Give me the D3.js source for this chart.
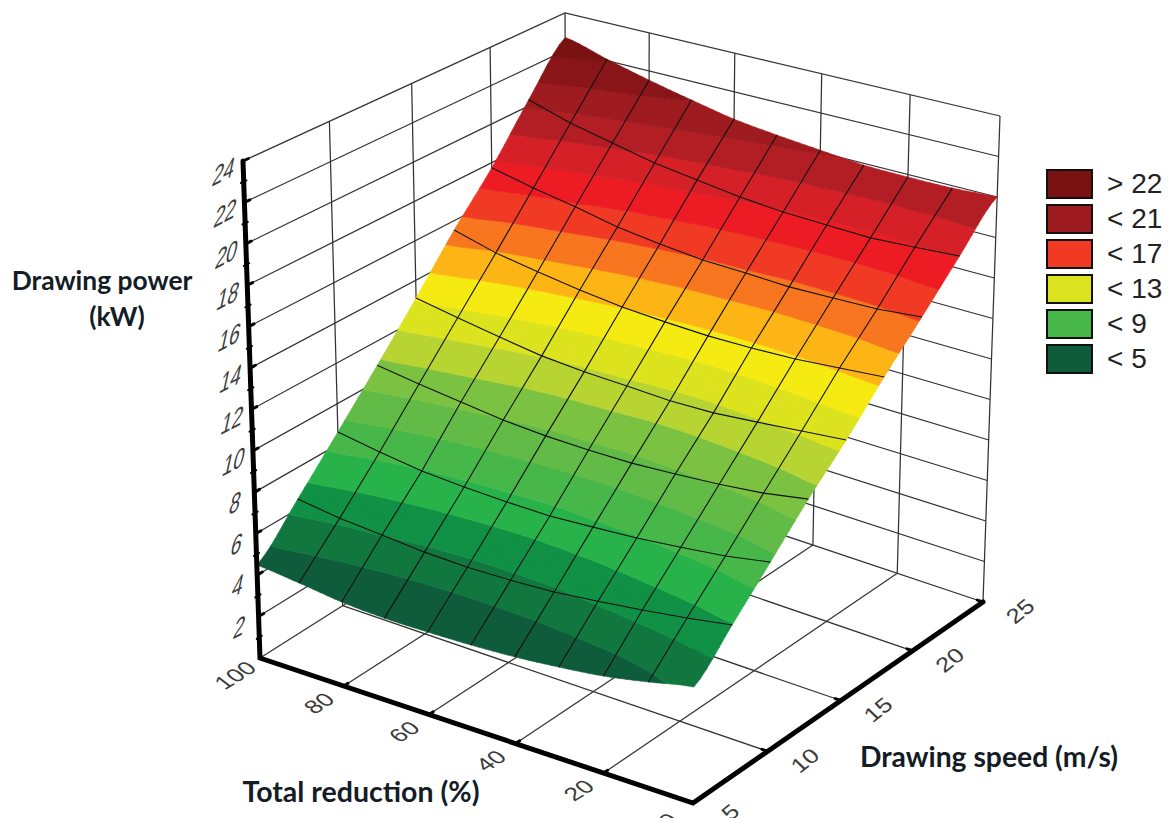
<!DOCTYPE html>
<html>
<head>
<meta charset="utf-8">
<script src="https://cdnjs.cloudflare.com/ajax/libs/d3/7.8.5/d3.min.js"></script>
<style>
  html, body { margin: 0; padding: 0; background: #fff; }
  svg { display: block; }
</style>
</head>
<body>
<div id="chart"></div>
<script>
const reductions = [100, 90, 80, 70, 60, 50, 40, 30, 20, 10, 0];
const speeds = [5, 7.5, 10, 12.5, 15, 17.5, 20, 22.5, 25];

// drawing power (kW), one row per speed, columns follow reductions
const powerAt5 = [4.49, 4.27, 4.01, 3.89, 3.89, 3.93, 4.03, 4.21, 4.45, 4.83, 5.25];
const powerAt7 = [6.48, 6.19, 6.02, 5.84, 5.77, 5.8, 5.89, 6.11, 6.35, 6.63, 6.96];
const powerAt10 = [8.61, 8.25, 7.96, 7.82, 7.74, 7.71, 7.82, 7.95, 8.16, 8.39, 8.75];
const powerAt12 = [10.8, 10.49, 10.22, 9.96, 9.82, 9.77, 9.77, 9.88, 10.03, 10.25, 10.6];
const powerAt15 = [13.1, 12.71, 12.36, 12.04, 11.87, 11.8, 11.7, 11.74, 11.92, 12.12, 12.32];
const powerAt17 = [15.52, 14.95, 14.59, 14.28, 14.03, 13.9, 13.82, 13.84, 13.91, 14.09, 14.27];
const powerAt20 = [17.73, 17.27, 16.88, 16.44, 16.17, 15.96, 15.9, 15.81, 15.86, 15.92, 16.13];
const powerAt22 = [20.32, 19.66, 19.19, 18.72, 18.43, 18.13, 17.95, 17.88, 17.82, 17.94, 18.09];
const powerAt25 = [22.7, 22.08, 21.52, 21.03, 20.59, 20.32, 20.11, 19.91, 19.87, 19.88, 20.0];
const powerRows = [powerAt5, powerAt7, powerAt10, powerAt12, powerAt15, powerAt17, powerAt20, powerAt22, powerAt25];

const bandLevels = [5, 6, 7, 8, 9, 10, 11, 12, 13, 14, 15, 16, 17, 18, 19, 20, 21, 22];
const bandColors = ["#0f5c3d", "#11773f", "#119145", "#28b34a", "#47b749", "#62bb46", "#7cc242",
  "#b8d432", "#dce31f", "#f5ea12", "#fdb515", "#f7761f", "#f03a24", "#ed1c24", "#d52027",
  "#b31e25", "#9e1b1f", "#8a1519", "#7a1212"];

const legendLabels = ["> 22", "< 21", "< 17", "< 13", "< 9", "< 5"];
const legendColors = ["#7a1212", "#9e1b1f", "#f03a24", "#dce31f", "#47b749", "#0f5c3d"];

const reductionTicks = [100, 80, 60, 40, 20, 0];
const speedTicks = [5, 10, 15, 20, 25];
const powerTicks = d3.range(2, 25, 2);
const powerMinorTicks = d3.range(1, 24, 2);

const width = 1168;
const height = 818;

// where the corners of the plot box land on the page
const box = {
  floorA: [260, 658], floorB: [693, 803], floorC: [983, 602], floorD: [568, 463],
  topA: [243, 161], topB: [697, 273], topC: [1000, 116], topD: [565, 13],
};

const uScale = d3.scaleLinear().domain([100, 0]).range([0, 1]);
const wScale = d3.scaleLinear().domain([5, 25]).range([0, 1]);
const hScale = d3.scaleLinear().domain([0, 24]).range([0, 1]);

const bilerp = (a, b, c, d, u, w, i) =>
  (1 - w) * ((1 - u) * a[i] + u * b[i]) + w * ((1 - u) * d[i] + u * c[i]);

function project(r, v, z) {
  // slight foreshortening, the box is seen in perspective
  const u0 = uScale(r), w0 = wScale(v), h = hScale(z);
  const u = (u0 * 0.96) / (1 - 0.04 * u0);
  const k = 0.1 - 0.06 * u;
  const w = (w0 * (1 + k)) / (1 + k * w0);
  return [0, 1].map((i) => {
    const lo = bilerp(box.floorA, box.floorB, box.floorC, box.floorD, u, w, i);
    const hi = bilerp(box.topA, box.topB, box.topC, box.topD, u, w, i);
    return lo + (hi - lo) * h;
  });
}

const svg = d3
  .select("#chart")
  .append("svg")
  .attr("width", width)
  .attr("height", height)
  .attr("viewBox", [0, 0, width, height])
  .style("background-color", "white");

const line = d3.line();
const wallLine = (pts) =>
  svg.append("path").attr("d", line(pts)).attr("fill", "none").attr("stroke", "#333").attr("stroke-width", 1.25);

// walls and floor
powerTicks.forEach((z) => {
  wallLine([project(100, 5, z), project(100, 25, z), project(0, 25, z)]);
});
speedTicks.slice(1, -1).forEach((v) => {
  wallLine([project(100, v, 0), project(100, v, 24)]);
});
reductionTicks.slice(1, -1).forEach((r) => {
  wallLine([project(r, 25, 0), project(r, 25, 24)]);
});
speedTicks.forEach((v) => {
  if (v > 5) wallLine([project(100, v, 0), project(0, v, 0)]);
});
reductionTicks.forEach((r) => {
  if (r > 0) wallLine([project(r, 5, 0), project(r, 25, 0)]);
});
wallLine([project(100, 25, 0), project(100, 25, 24)]);
wallLine([project(0, 25, 0), project(0, 25, 24)]);

// surface, every cell is cut in small triangles and each is clipped to the colour bands
function clipHalf(poly, level, keepAbove) {
  const out = [];
  poly.forEach((p, i) => {
    const q = poly[(i + 1) % poly.length];
    const pIn = keepAbove ? p.z >= level : p.z <= level;
    const qIn = keepAbove ? q.z >= level : q.z <= level;
    if (pIn) out.push(p);
    if (pIn !== qIn) {
      const t = (level - p.z) / (q.z - p.z);
      out.push({ r: p.r + (q.r - p.r) * t, v: p.v + (q.v - p.v) * t, z: level });
    }
  });
  return out;
}

const subdivisions = 6;
const bandPaths = bandColors.map(() => d3.path());

// smooth reading between the grid nodes so the bands do not kink at the mesh
function catmull(a, b, c, d, t) {
  return 0.5 * (2 * b + (c - a) * t + (2 * a - 5 * b + 4 * c - d) * t * t + (3 * b - a - 3 * c + d) * t * t * t);
}
const clampAt = (vals, n) => vals[Math.max(0, Math.min(vals.length - 1, n))];
function powerBetween(i, j, s, t) {
  const across = d3.range(j - 1, j + 3).map((n) => {
    const row = clampAt(powerRows, n);
    return catmull(clampAt(row, i - 1), row[i], row[i + 1], clampAt(row, i + 2), s);
  });
  return catmull(across[0], across[1], across[2], across[3], t);
}

function addTriangle(tri) {
  bandColors.forEach((_, b) => {
    let poly = tri;
    if (b > 0) poly = clipHalf(poly, bandLevels[b - 1], true);
    if (poly.length && b < bandLevels.length) poly = clipHalf(poly, bandLevels[b], false);
    if (poly.length < 3) return;
    poly.forEach((p, n) => {
      const [x, y] = project(p.r, p.v, p.z);
      if (n === 0) bandPaths[b].moveTo(x, y);
      else bandPaths[b].lineTo(x, y);
    });
    bandPaths[b].closePath();
  });
}

speeds.slice(0, -1).forEach((v0, j) => {
  reductions.slice(0, -1).forEach((r0, i) => {
    const r1 = reductions[i + 1], v1 = speeds[j + 1];
    const node = (a, b) => {
      const s = a / subdivisions, t = b / subdivisions;
      return { r: r0 + (r1 - r0) * s, v: v0 + (v1 - v0) * t, z: powerBetween(i, j, s, t) };
    };
    for (let a = 0; a < subdivisions; a++) {
      for (let b = 0; b < subdivisions; b++) {
        addTriangle([node(a, b), node(a + 1, b), node(a + 1, b + 1)]);
        addTriangle([node(a, b), node(a + 1, b + 1), node(a, b + 1)]);
      }
    }
  });
});

svg
  .append("g")
  .selectAll("path")
  .data(bandColors)
  .join("path")
  .attr("d", (d, i) => bandPaths[i].toString())
  .attr("fill", (d) => d)
  .attr("stroke", (d) => d)
  .attr("stroke-width", 0.6)
  .attr("stroke-linejoin", "round");

// mesh, the outline of the surface has no line of its own
const mesh = svg.append("g").attr("fill", "none").attr("stroke", "#111").attr("stroke-width", 1.1);
speeds.slice(1, -1).forEach((v, j) => {
  mesh.append("path").attr("d", line(reductions.map((r, i) => project(r, v, powerRows[j + 1][i]))));
});
reductions.slice(1, -1).forEach((r, i) => {
  mesh.append("path").attr("d", line(speeds.map((v, j) => project(r, v, powerRows[j][i + 1]))));
});

// axes
const axes = svg.append("g").attr("fill", "none").attr("stroke", "#000").attr("stroke-linecap", "round");
const axisLine = (pts, w) => axes.append("path").attr("d", line(pts)).attr("stroke-width", w);
axisLine([project(100, 5, 24), project(100, 5, 0), project(0, 5, 0), project(0, 25, 0)], 5);

const nudge = (p, q, len) => {
  const d = Math.hypot(q[0] - p[0], q[1] - p[1]);
  return [p[0] + ((q[0] - p[0]) / d) * len, p[1] + ((q[1] - p[1]) / d) * len];
};
powerTicks.forEach((z) => {
  const p = project(100, 5, z);
  axisLine([p, nudge(p, project(100, 25, z), 6)], 3);
});
powerMinorTicks.forEach((z) => {
  const p = project(100, 5, z);
  axisLine([nudge(p, project(100, 25, z), -3), nudge(p, project(100, 25, z), 3)], 2);
});
reductionTicks.slice(1, -1).forEach((r) => {
  const p = project(r, 5, 0);
  axisLine([p, nudge(p, project(r, 25, 0), 5)], 3);
});
speedTicks.slice(1).forEach((v) => {
  const p = project(0, v, 0);
  axisLine([p, nudge(p, project(100, v, 0), 6)], 3);
});

// tick labels are skewed with the box
const tickLabel = (txt, p, dx, dy, size, m) =>
  svg
    .append("text")
    .attr("transform", `translate(${p[0] + dx},${p[1] + dy}) matrix(${m.join(",")},0,0)`)
    .attr("text-anchor", "middle")
    .attr("dy", "0.36em")
    .attr("font-family", "Liberation Sans, Arial, sans-serif")
    .attr("font-size", size)
    .attr("fill", "#3c3c3c")
    .text(txt);

const powerSkew = [0.8, -0.42, -0.26, 1.2];
powerTicks.forEach((z) => tickLabel(z, project(100, 5, z), -19, 10, 24, powerSkew));
const reductionSkew = [0.8, -0.5, 0.72, 0.55];
reductionTicks.forEach((r) => tickLabel(r, project(r, 5, 0), -25, 17, 25, reductionSkew));
const speedSkew = [0.78, -0.62, 0.62, 0.6];
speedTicks.forEach((v) => tickLabel(v, project(0, v, 0), 37, 9, 25, speedSkew));

// axis titles
const title = (txt, x, y, size) =>
  svg
    .append("text")
    .attr("x", x)
    .attr("y", y)
    .attr("text-anchor", "middle")
    .attr("font-family", "Lato, Open Sans, sans-serif")
    .attr("font-weight", 700)
    .attr("font-size", size)
    .attr("fill", "#141c26")
    .text(txt);
title("Drawing power", 102, 290, 26.4);
title("(kW)", 117, 326, 26.4);
title("Total reduction (%)", 361, 802, 28.5);
title("Drawing speed (m/s)", 989, 767, 28.3);

// legend
const legend = svg
  .append("g")
  .selectAll("g")
  .data(legendLabels)
  .join("g")
  .attr("transform", (d, i) => `translate(1047,${170 + i * 35})`);
legend
  .append("rect")
  .attr("width", 45)
  .attr("height", 28)
  .attr("fill", (d, i) => legendColors[i])
  .attr("stroke", "#111")
  .attr("stroke-width", 2);
legend
  .append("text")
  .attr("x", 60)
  .attr("y", 13)
  .attr("dy", "0.36em")
  .attr("font-family", "Liberation Sans, Arial, sans-serif")
  .attr("font-size", 28)
  .attr("fill", "#222")
  .text((d) => d);
</script>
</body>
</html>
